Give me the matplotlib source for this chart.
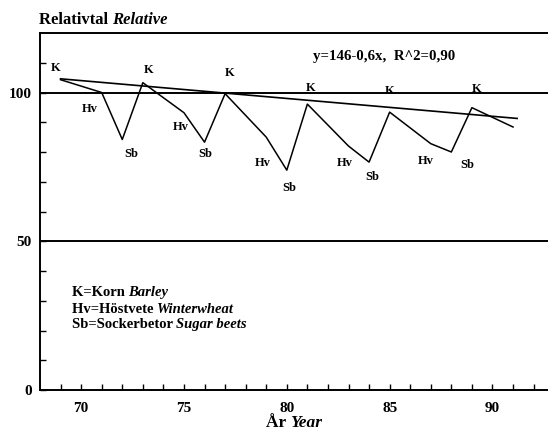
import matplotlib
matplotlib.use("Agg")
import matplotlib.pyplot as plt
import numpy as np

# Relative yield per year, vertices of the crop-rotation series
years = [69, 71, 72, 73, 75, 76, 77, 79, 80, 81, 83, 84, 85, 87, 88, 89, 91]
values = [104.3, 100.0, 84.2, 103.3, 93.2, 83.3, 99.6, 85.0, 73.9, 96.1,
          82.0, 76.6, 93.4, 82.8, 80.0, 94.9, 88.4]

# Trend line y = a + b*x
trend_a = 146.0
trend_b = -0.6
trend_x = [69, 91.2]
trend_label = "y=146-0,6x,  R^2=0,90"

# Crop labels placed beside the series
crop_labels = ["K", "Hv", "Sb", "K", "Hv", "Sb", "K", "Hv", "Sb",
               "K", "Hv", "Sb", "K", "Hv", "Sb", "K"]
label_x = [68.75, 70.4, 72.45, 73.3, 74.85, 76.05, 77.2, 78.85, 80.1,
           81.15, 82.8, 84.15, 85.0, 86.75, 88.75, 89.25]
label_y = [108.4, 94.3, 79.4, 107.7, 88.3, 79.2, 106.6, 76.3, 68.0,
           101.6, 76.3, 71.5, 100.4, 76.9, 75.5, 101.3]

ref_levels = [100, 50]
ytick_vals = list(range(0, 120, 10))
ytick_text = ["0", "", "", "", "", "50", "", "", "", "", "100", ""]
xtick_vals = list(range(69, 93))
xtick_text = [str(v) if v % 5 == 0 else "" for v in xtick_vals]

legend_lines = [("K=Korn ", "Barley"),
                ("Hv=Höstvete ", "Winterwheat"),
                ("Sb=Sockerbetor ", "Sugar beets")]

plt.rcParams["font.family"] = ["Liberation Serif", "DejaVu Serif"]
plt.rcParams["font.weight"] = "bold"

fig = plt.figure(figsize=(5.48, 4.32), dpi=100)
ax = fig.add_axes([40 / 548, 42 / 432, 1 - 40 / 548, (390 - 33) / 432])

ax.set_xlim(68, 92.7)
ax.set_ylim(0, 120)

for lvl in ref_levels:
    ax.axhline(lvl, color="black", lw=1.4, zorder=1)

ax.plot(years, values, color="black", lw=1.1, zorder=3)
tx = np.array(trend_x)
ax.plot(tx, trend_a + trend_b * tx, color="black", lw=1.2, zorder=3)

for s, x, y in zip(crop_labels, label_x, label_y):
    ax.text(x, y, s, fontsize=9, fontweight="bold", ha="center", va="center")

ax.text(84.75, 112.2, trend_label, fontsize=10.7, fontweight="bold",
        ha="center", va="center")

# Legend block
legend_base = [31.5, 25.8, 20.9]
for (a, b), yb in zip(legend_lines, legend_base):
    t = ax.text(69.55, yb, a, fontsize=10.5, fontweight="bold",
                ha="left", va="baseline")
    ax.annotate(b, xy=(1, 0), xycoords=t, xytext=(0, 0),
                textcoords="offset points", fontsize=10.5, fontweight="bold",
                style="italic", ha="left", va="bottom")

ax.spines["right"].set_visible(False)
for side in ["left", "bottom", "top"]:
    ax.spines[side].set_linewidth(1.4)

ax.set_yticks(ytick_vals)
ax.set_yticklabels(ytick_text)
ax.set_xticks(xtick_vals)
ax.set_xticklabels(xtick_text)
ax.tick_params(axis="both", direction="in", length=4, width=1.0,
               labelsize=11, pad=6)
ax.tick_params(axis="x", pad=9)
ax.tick_params(top=False, right=False)

# Title and axis label, each with a Swedish and an italic English part
t1 = fig.text(39 / 548, 1 - 20 / 432, "Relativtal ", fontsize=12,
              fontweight="bold", ha="left", va="center")
ax.annotate("Relative", xy=(1, 0), xycoords=t1, xytext=(0, 0),
            textcoords="offset points", fontsize=12, fontweight="bold",
            style="italic", ha="left", va="bottom", annotation_clip=False)

t2 = fig.text(266 / 548, 1 - 423 / 432, "År ", fontsize=12.5,
              fontweight="bold", ha="left", va="center")
ax.annotate("Year", xy=(1, 0), xycoords=t2, xytext=(0, 0),
            textcoords="offset points", fontsize=12.5, fontweight="bold",
            style="italic", ha="left", va="bottom", annotation_clip=False)

fig.savefig("out.png", dpi=100)
